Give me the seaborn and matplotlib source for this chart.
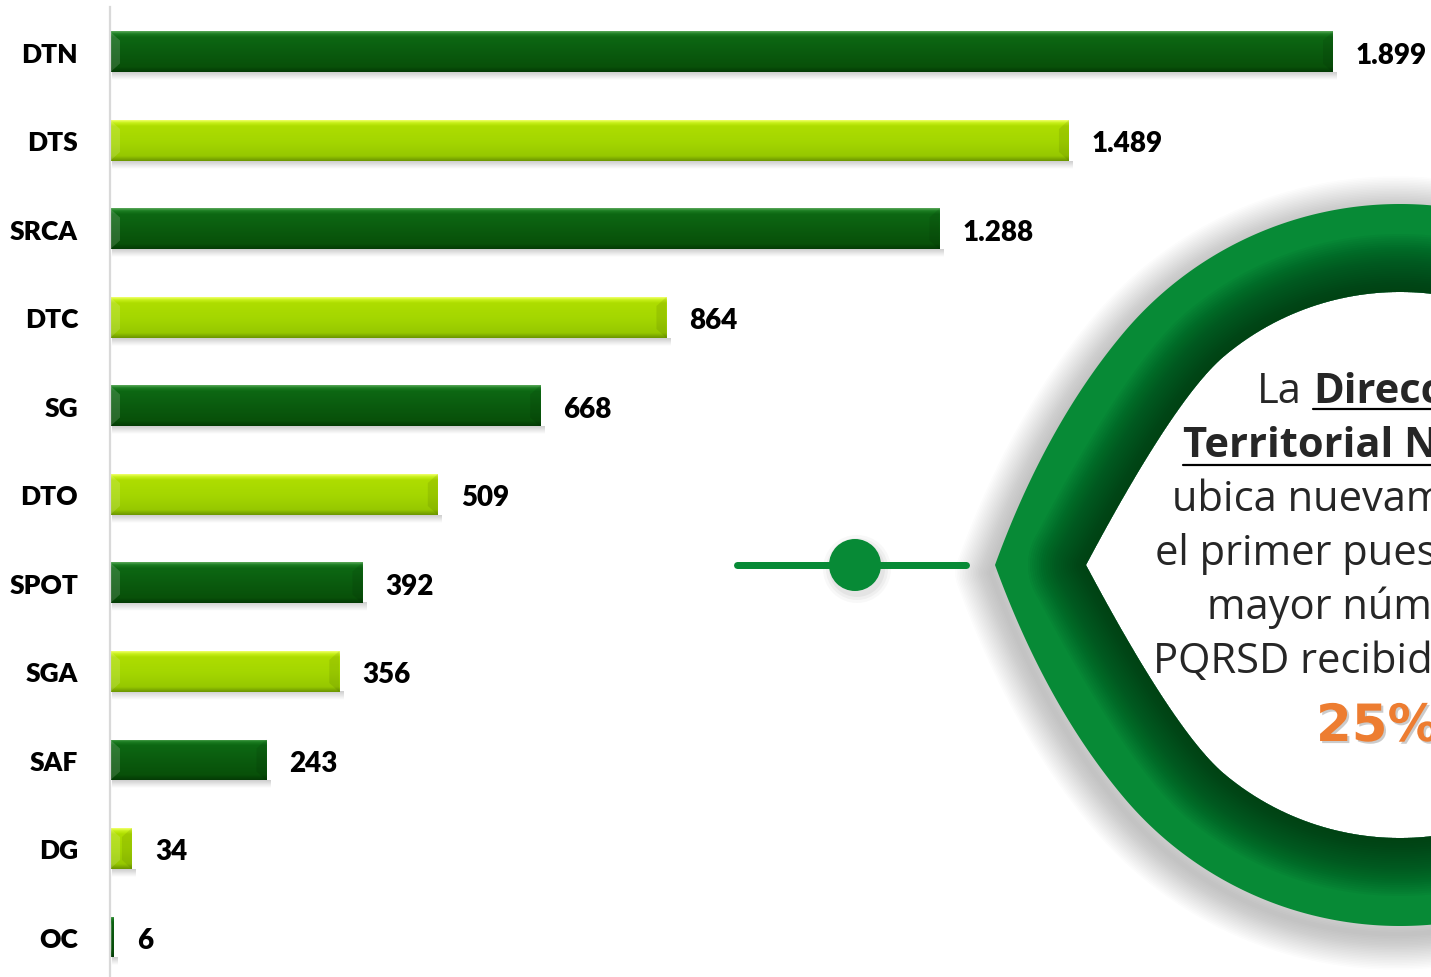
import numpy as np
import pandas as pd
import matplotlib
matplotlib.use("Agg")
import matplotlib.pyplot as plt
import matplotlib.patheffects as pe
import seaborn as sns
from matplotlib.patches import Polygon, Circle, PathPatch
from matplotlib.path import Path
from matplotlib.colors import to_rgba

# ---------------- data ----------------
categories = ["DTN", "DTS", "SRCA", "DTC", "SG", "DTO", "SPOT", "SGA", "SAF", "DG", "OC"]
values = [1899, 1489, 1288, 864, 668, 509, 392, 356, 243, 34, 6]
shade = ["dark", "light", "dark", "light", "dark", "light", "dark", "light", "dark", "light", "dark"]
callout_lines = ["ubica nuevamente en", "el primer puesto con el", "mayor número de", "PQRSD recibidas con el"]
callout_head = ["La", "Dirección", "Territorial Norte"]
callout_pct = "25%"

# ---------------- style ----------------
sns.set_theme(style="white")
plt.rcParams['font.family'] = ['Lato', 'DejaVu Sans']

DARK, LIGHT = "#0a5a0e", "#a4d800"
GREEN = "#078a36"
ORANGE = "#ed7d31"
W, H = 1431, 978

fig = plt.figure(figsize=(W / 100, H / 100), dpi=100)
fig.patch.set_facecolor("white")

ax = fig.add_axes([110 / W, 0, 1321 / W, 970 / H])
df = pd.DataFrame({"cat": categories, "val": values, "shade": shade})
pal = {c: (DARK if s == "dark" else LIGHT) for c, s in zip(categories, shade)}
sns.barplot(data=df, y="cat", x="val", hue="cat", palette=pal, legend=False,
            width=0.463, orient="h", saturation=1, ax=ax, zorder=2)

px_per_unit = 1223 / 1899
xmax = 1321 / px_per_unit
ylo, yhi = 10.452, -0.508
px_y = 970 / (ylo - yhi)  # pixels per category unit

grad_stops = {
    "dark": [(0.0, "#5aa85a"), (0.06, "#1c7e22"), (0.14, "#0d6813"), (0.55, "#0a5a0e"),
             (0.88, "#085009"), (1.0, "#043b05")],
    "light": [(0.0, "#f0ff6a"), (0.06, "#c8f01a"), (0.14, "#aedd00"), (0.55, "#a3d600"),
              (0.88, "#96c800"), (1.0, "#6c9600")],
}


def make_grad(stops, n=80):
    pos = np.array([s[0] for s in stops])
    cols = np.array([to_rgba(s[1]) for s in stops])
    t = np.linspace(0, 1, n)
    out = np.zeros((n, 1, 4))
    for k in range(4):
        out[:, 0, k] = np.interp(t, pos, cols[:, k])
    return out


for p in ax.patches:
    x0, w = p.get_x(), p.get_width()
    y0, h = p.get_y(), p.get_height()
    idx = int(round(y0 + h / 2))
    kind = shade[idx]
    p.set_edgecolor("none")
    # soft shadow under bar
    sh = np.zeros((20, 1, 4))
    sh[:, 0, :3] = 0.45
    sh[:, 0, 3] = np.linspace(0.35, 0.0, 20)
    ax.imshow(sh, extent=(x0 + 2 / px_per_unit, x0 + w + 4 / px_per_unit, y0 + h + 8 / px_y, y0 + h),
              aspect="auto", zorder=1.5, interpolation="bilinear")
    im = ax.imshow(make_grad(grad_stops[kind]), extent=(x0, x0 + w, y0 + h, y0),
                   aspect="auto", zorder=2.1, interpolation="bilinear")
    im.set_clip_path(p)
    # bevels
    bx = min(10 / px_per_unit, w / 2)
    dy = 9 / px_y
    ax.add_patch(Polygon([(x0, y0), (x0 + bx, y0 + dy), (x0 + bx, y0 + h - dy), (x0, y0 + h)],
                         closed=True, facecolor="white", alpha=0.14, edgecolor="none", zorder=2.2))
    x1 = x0 + w
    ax.add_patch(Polygon([(x1, y0), (x1 - bx, y0 + dy), (x1 - bx, y0 + h - dy), (x1, y0 + h)],
                         closed=True, facecolor="black", alpha=0.08, edgecolor="none", zorder=2.2))

for i, v in enumerate(values):
    ax.annotate(f"{v:,}".replace(",", "."), xy=(v, i), xytext=(16.5, -2), textcoords="offset points",
                ha="left", va="center", fontsize=20, fontweight="heavy", color="black")

ax.set_xlim(0, xmax)
ax.set_ylim(ylo, yhi)
ax.set_xticks([])
ax.set_xlabel("")
ax.set_ylabel("")
ax.tick_params(axis="y", length=0, pad=23)
for lab in ax.get_yticklabels():
    lab.set_fontsize(19)
    lab.set_fontweight("heavy")
    lab.set_color("black")
for s in ["top", "right", "bottom"]:
    ax.spines[s].set_visible(False)
ax.spines["left"].set_color("#d9d9d9")
ax.spines["left"].set_linewidth(1.6)
ax.set_facecolor("none")

# ---------------- decoration layer (pixel coordinates) ----------------
dax = fig.add_axes([0, 0, 1, 1], zorder=5)
dax.set_xlim(0, W)
dax.set_ylim(H, 0)
dax.axis("off")
dax.patch.set_alpha(0)


def teardrop(cx, cy, R, tip_x, tip_ang, beta, n=200):
    T = np.array([tip_x, cy], float)
    b = np.radians(beta)
    a = np.radians(tip_ang)
    P = np.array([cx - R * np.cos(b), cy - R * np.sin(b)])
    tdir = np.array([-np.sin(b), np.cos(b)])
    rdir = np.array([np.sin(a), -np.cos(a)])
    A = np.column_stack([tdir, -rdir])
    s, u = np.linalg.solve(A, T - P)
    Q = P + s * tdir
    t = np.linspace(0, 1, n)[:, None]
    bez = (1 - t) ** 2 * T + 2 * (1 - t) * t * Q + t ** 2 * P
    phi = np.radians(np.linspace(beta, 360 - beta, 4 * n))
    arc = np.column_stack([cx - R * np.cos(phi), cy - R * np.sin(phi)])
    lower = bez[::-1].copy()
    lower[:, 1] = 2 * cy - lower[:, 1]
    pts = np.vstack([bez, arc[1:], lower[1:]])
    return pts


CX, CY = 1400, 566
outer = teardrop(CX, CY, 361, 995, 20, 40)
inner = teardrop(CX, CY, 273, 1086, 28, 50)

# outer soft shadow (many faint layers -> smooth falloff)
for k in range(22):
    lw = 4 + k * 3.2
    dax.plot(outer[:, 0] - 4, outer[:, 1] + 8, color="#505050", lw=lw * 0.72, alpha=0.016,
             solid_joinstyle="round", zorder=1)

ring_path = Path.make_compound_path(
    Path(np.vstack([outer, outer[:1]]), closed=True),
    Path(np.vstack([inner[::-1], inner[-1:]]), closed=True),
)
ring = PathPatch(ring_path, facecolor=GREEN, edgecolor="none", zorder=2)
dax.add_patch(ring)
hole = Polygon(inner, closed=True, facecolor="white", edgecolor="none", zorder=1.5)
dax.add_patch(hole)

# inner dark shading
for k in range(26):
    lw = 6 + k * 4.4
    ln, = dax.plot(inner[:, 0], inner[:, 1], color="#003312", lw=lw * 0.72, alpha=0.05,
                   solid_joinstyle="round", zorder=3)
    ln.set_clip_path(ring)

# connector
for r, al in [(34, 0.05), (31, 0.07), (28, 0.09)]:
    dax.add_patch(Circle((857, 570), r, facecolor="#808080", alpha=al, edgecolor="none", zorder=2))
dax.plot([737, 966], [566, 566], color=GREEN, lw=7 * 0.72, solid_capstyle="round", zorder=3)
dax.add_patch(Circle((855, 566), 26, facecolor=GREEN, edgecolor="none", zorder=4))

# callout text
TF = ["Open Sans", "DejaVu Sans"]
dax.text(1257, 403, callout_head[0], fontsize=30, family=TF, ha="left", va="baseline", zorder=6)
dax.text(1313, 403, callout_head[1], fontsize=30, family=TF, fontweight="bold", ha="left",
         va="baseline", zorder=6)
dax.plot([1313, 1700], [410, 410], color="black", lw=2.2 * 0.72, zorder=6)
dax.text(1183, 457, callout_head[2], fontsize=30, family=TF, fontweight="bold", ha="left",
         va="baseline", zorder=6)
dax.plot([1183, 1700], [466, 466], color="black", lw=2.2 * 0.72, zorder=6)
line_x = [1172, 1155, 1207, 1153]
for k, (txt, lx) in enumerate(zip(callout_lines, line_x)):
    dax.text(lx, 511 + 54 * k, txt, fontsize=30, family=TF, ha="left", va="baseline", zorder=6)
dax.text(1316, 742, callout_pct, fontsize=37, family=["DejaVu Sans"], fontweight="bold", color=ORANGE,
         ha="left", va="baseline", zorder=6,
         path_effects=[pe.withSimplePatchShadow(offset=(1.5, -1.5), shadow_rgbFace="#999999", alpha=0.5)])

fig.savefig("out.png", dpi=100, facecolor="white")
